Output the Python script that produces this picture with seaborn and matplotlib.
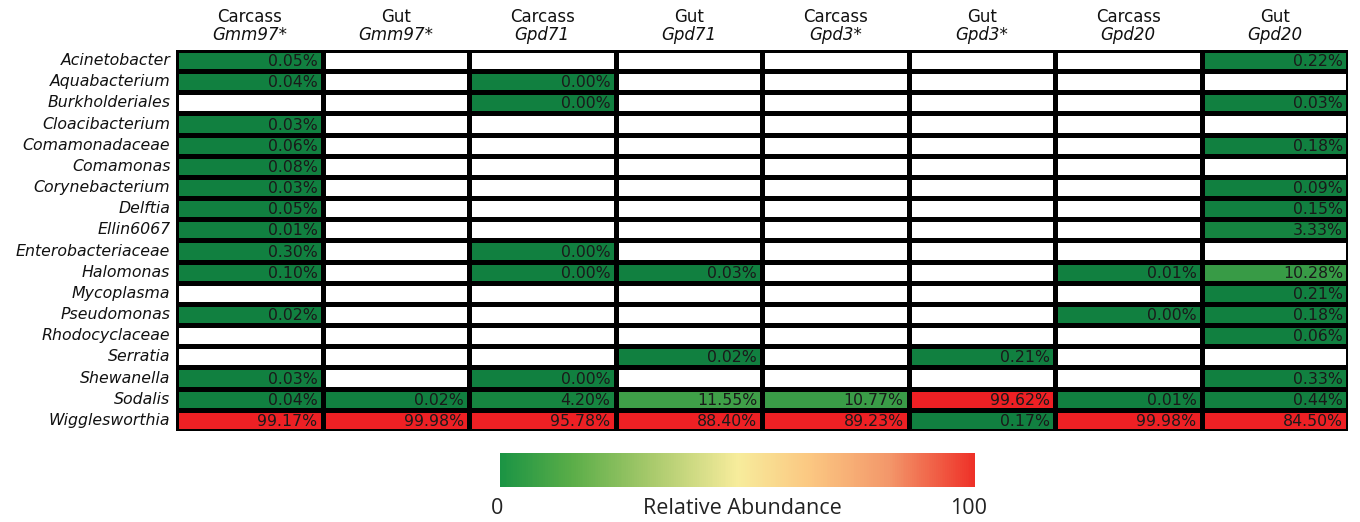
import numpy as np
import pandas as pd
import matplotlib
matplotlib.use('Agg')
import matplotlib.pyplot as plt
import seaborn as sns
from matplotlib.colors import LinearSegmentedColormap, Normalize
from matplotlib.cm import ScalarMappable

nan = np.nan

genera = ['Acinetobacter', 'Aquabacterium', 'Burkholderiales', 'Cloacibacterium',
          'Comamonadaceae', 'Comamonas', 'Corynebacterium', 'Delftia', 'Ellin6067',
          'Enterobacteriaceae', 'Halomonas', 'Mycoplasma', 'Pseudomonas',
          'Rhodocyclaceae', 'Serratia', 'Shewanella', 'Sodalis', 'Wigglesworthia']

tissues = ['Carcass', 'Gut', 'Carcass', 'Gut', 'Carcass', 'Gut', 'Carcass', 'Gut']
strains = ['Gmm97*', 'Gmm97*', 'Gpd71', 'Gpd71', 'Gpd3*', 'Gpd3*', 'Gpd20', 'Gpd20']

# relative abundance (%) per sample, NaN = not detected
carcass_gmm97 = [0.05, 0.04, nan, 0.03, 0.06, 0.08, 0.03, 0.05, 0.01, 0.30, 0.10, nan, 0.02, nan, nan, 0.03, 0.04, 99.17]
gut_gmm97 = [nan, nan, nan, nan, nan, nan, nan, nan, nan, nan, nan, nan, nan, nan, nan, nan, 0.02, 99.98]
carcass_gpd71 = [nan, 0.00, 0.00, nan, nan, nan, nan, nan, nan, 0.00, 0.00, nan, nan, nan, nan, 0.00, 4.20, 95.78]
gut_gpd71 = [nan, nan, nan, nan, nan, nan, nan, nan, nan, nan, 0.03, nan, nan, nan, 0.02, nan, 11.55, 88.40]
carcass_gpd3 = [nan, nan, nan, nan, nan, nan, nan, nan, nan, nan, nan, nan, nan, nan, nan, nan, 10.77, 89.23]
gut_gpd3 = [nan, nan, nan, nan, nan, nan, nan, nan, nan, nan, nan, nan, nan, nan, 0.21, nan, 99.62, 0.17]
carcass_gpd20 = [nan, nan, nan, nan, nan, nan, nan, nan, nan, nan, 0.01, nan, 0.00, nan, nan, nan, 0.01, 99.98]
gut_gpd20 = [0.22, nan, 0.03, nan, 0.18, nan, 0.09, 0.15, 3.33, nan, 10.28, 0.21, 0.18, 0.06, nan, 0.33, 0.44, 84.50]

cols = [carcass_gmm97, gut_gmm97, carcass_gpd71, gut_gpd71,
        carcass_gpd3, gut_gpd3, carcass_gpd20, gut_gpd20]
df = pd.DataFrame(np.array(cols).T, index=genera,
                  columns=[f'{t} {s}' for t, s in zip(tissues, strains)])

sns.set_theme(style='white')
plt.rcParams['font.family'] = ['DejaVu Sans']

cell_cmap = LinearSegmentedColormap.from_list(
    'cells', [(0, '#118040'), (0.05, '#188640'), (0.115, '#40a048'), (0.5, '#ee2024'), (1, '#ee2024')])
cell_cmap.set_bad('white')

bar_cmap = LinearSegmentedColormap.from_list(
    'bar', [(0, '#1b9444'), (0.15, '#5aad48'), (0.32, '#a9ca6c'), (0.5, '#f7ec9c'),
            (0.65, '#fbc882'), (0.82, '#f3976a'), (1, '#ee3128')])

fig = plt.figure(figsize=(13.6, 5.22), dpi=100)
W, H = 1360, 522
ax = fig.add_axes([176 / W, 1 - 431 / H, (1348 - 176) / W, (431 - 50) / H])
sns.heatmap(df, ax=ax, cmap=cell_cmap, vmin=0, vmax=100, cbar=False,
            linewidths=2.5, linecolor='black')

# right-aligned percentage labels
for i in range(df.shape[0]):
    for j in range(df.shape[1]):
        v = df.iat[i, j]
        if not np.isnan(v):
            ax.text(j + 0.966, i + 0.55, f'{v:.2f}%', ha='right', va='center',
                    fontsize=11.3, color='#1a1a1a')

ax.set_xticks([])
ax.set_xlabel('')
ax.set_ylabel('')
ax.set_yticks(np.arange(len(genera)) + 0.5)
ax.set_yticklabels(genera, rotation=0, fontstyle='italic', fontsize=11.3, color='#111111')
ax.tick_params(axis='y', length=0, pad=4)

for j in range(len(tissues)):
    ax.text(j + 0.5, -1.58, tissues[j], ha='center', va='center', fontsize=12, color='#111111')
    ax.text(j + 0.5, -0.72, strains[j], ha='center', va='center', fontsize=12,
            fontstyle='italic', color='#111111')

# colour key
cax = fig.add_axes([500 / W, 1 - 487 / H, 475 / W, 34 / H])
cb = fig.colorbar(ScalarMappable(norm=Normalize(0, 100), cmap=bar_cmap), cax=cax,
                  orientation='horizontal')
cb.outline.set_visible(False)
cb.set_ticks([])

fig.text(497 / W, 1 - 509 / H, '0', ha='center', va='center', fontsize=15.5,
         family='Open Sans', color='#222222')
fig.text(969 / W, 1 - 509 / H, '100', ha='center', va='center', fontsize=15.5,
         family='Open Sans', color='#222222')
fig.text(742 / W, 1 - 509 / H, 'Relative Abundance', ha='center', va='center',
         fontsize=15.5, family='Open Sans', color='#222222')

fig.savefig('out.png', dpi=100, facecolor='white')
